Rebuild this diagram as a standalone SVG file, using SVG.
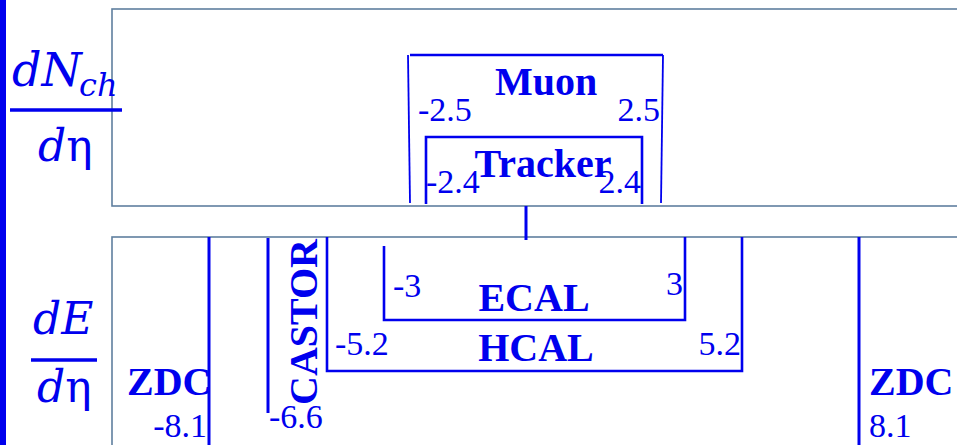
<svg xmlns="http://www.w3.org/2000/svg" width="957" height="445" viewBox="0 0 957 445">
<style>
.frame{fill:none;stroke:#5f7f9f;stroke-width:1.6}
.det{fill:none;stroke:#0000ee;stroke-width:2.6}
.thin{fill:none;stroke:#0000ee;stroke-width:1.8}
.lbl{font-family:"Liberation Serif",serif;font-weight:bold;font-size:40px;fill:#0000ee}
.num{font-family:"Liberation Serif",serif;font-size:34px;fill:#0000ee}
.math{font-family:"DejaVu Serif",serif;font-style:italic;fill:#0000ee}
.up{font-family:"DejaVu Serif",serif;font-style:normal;fill:#0000ee}
</style>
<rect x="0" y="0" width="957" height="445" fill="#ffffff"/>
<rect x="0" y="0" width="6" height="445" fill="#0000ee"/>

<g id="axes">
<rect class="frame" x="112" y="9" width="860" height="197"/>
<rect class="frame" x="112" y="237" width="860" height="230"/>
</g>

<g id="dNdeta">
<text class="math" x="12" y="86" font-size="46">dN</text>
<text class="math" x="79" y="96" font-size="32">ch</text>
<line x1="10" y1="110" x2="122" y2="110" stroke="#0000ee" stroke-width="3.5"/>
<text x="38" y="161" font-size="44"><tspan class="math">d</tspan><tspan class="up">η</tspan></text>
</g>

<g id="dEdeta">
<text class="math" x="33" y="334" font-size="44">dE</text>
<line x1="31" y1="360" x2="97" y2="360" stroke="#0000ee" stroke-width="3.5"/>
<text x="37" y="402" font-size="44"><tspan class="math">d</tspan><tspan class="up">η</tspan></text>
</g>

<g id="muon">
<line class="thin" x1="408" y1="55" x2="410" y2="203"/>
<line class="det" x1="410" y1="55" x2="663" y2="55"/>
<line class="thin" x1="663" y1="55" x2="661" y2="203"/>
<text class="lbl" x="546" y="95" text-anchor="middle">Muon</text>
<text class="num" x="418" y="121">-2.5</text>
<text class="num" x="660" y="121" text-anchor="end">2.5</text>
</g>

<g id="tracker">
<polyline class="det" points="426,204 426,137 642,137 642,204"/>
<text class="lbl" x="543" y="177" text-anchor="middle">Tracker</text>
<text class="num" x="426" y="193">-2.4</text>
<text class="num" x="641" y="193" text-anchor="end">2.4</text>
</g>

<g id="connectors">
<line x1="526" y1="206" x2="526" y2="240" stroke="#0000ee" stroke-width="3"/>
</g>

<g id="hcal">
<polyline class="det" points="327,237 327,371 742,371 742,237"/>
<text class="lbl" x="536" y="361" text-anchor="middle">HCAL</text>
<text class="num" x="335" y="355">-5.2</text>
<text class="num" x="741" y="355" text-anchor="end">5.2</text>
</g>

<g id="ecal">
<polyline class="det" points="384,246 384,320 685,320 685,237"/>
<text class="lbl" x="534" y="311" text-anchor="middle">ECAL</text>
<text class="num" x="393" y="297">-3</text>
<text class="num" x="683" y="295" text-anchor="end">3</text>
</g>

<g id="castor">
<line x1="268" y1="238" x2="268" y2="413" stroke="#0000ee" stroke-width="3"/>
<text class="lbl" transform="translate(317,405) rotate(-90)">CASTOR</text>
<text class="num" x="269" y="428">-6.6</text>
</g>

<g id="zdc-minus">
<line x1="209" y1="237" x2="209" y2="445" stroke="#0000ee" stroke-width="3"/>
<text class="lbl" x="127" y="395">ZDC</text>
<text class="num" x="207" y="437" text-anchor="end">-8.1</text>
</g>

<g id="zdc-plus">
<line x1="859" y1="237" x2="859" y2="445" stroke="#0000ee" stroke-width="3"/>
<text class="lbl" x="869" y="395">ZDC</text>
<text class="num" x="869" y="437">8.1</text>
</g>
</svg>
